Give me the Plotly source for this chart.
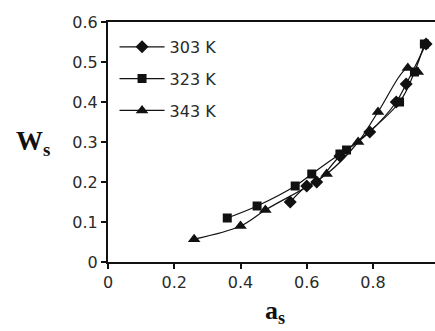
import plotly.graph_objects as go

# Water activity (a_s) vs. equilibrium moisture content (W_s)
a_303 = [0.55, 0.60, 0.63, 0.70, 0.79, 0.87, 0.90, 0.96]
w_303 = [0.15, 0.19, 0.20, 0.265, 0.325, 0.40, 0.445, 0.545]

a_323 = [0.36, 0.45, 0.565, 0.615, 0.70, 0.72, 0.88, 0.925, 0.955]
w_323 = [0.11, 0.14, 0.19, 0.22, 0.27, 0.28, 0.40, 0.475, 0.545]

a_343 = [0.26, 0.40, 0.475, 0.66, 0.755, 0.815, 0.905, 0.935]
w_343 = [0.057, 0.09, 0.13, 0.22, 0.30, 0.375, 0.485, 0.475]

series = [
    ("303 K", a_303, w_303, "diamond", 10),
    ("323 K", a_323, w_323, "square", 9),
    ("343 K", a_343, w_343, "triangle-up", 11),
]

x_ticks = [0, 0.2, 0.4, 0.6, 0.8]
y_ticks = [0, 0.1, 0.2, 0.3, 0.4, 0.5, 0.6]

INK = "#111111"
TXT = "#2a2a2a"

fig = go.Figure()
for i, (name, xs, ys, sym, sz) in enumerate(series):
    fig.add_trace(go.Scatter(
        x=xs, y=ys, name=name, mode="lines+markers",
        legendgroup=f"g{i}",
        line=dict(color=INK, width=1.2, shape="spline", smoothing=1),
        marker=dict(symbol=sym, size=sz, color=INK),
    ))

fig.update_layout(
    width=435, height=331,
    margin=dict(l=108, r=0, t=22, b=69),
    paper_bgcolor="white", plot_bgcolor="white",
    font=dict(family="DejaVu Sans", size=16, color=TXT),
    showlegend=True,
    legend=dict(
        x=0.02, y=0.967, xanchor="left", yanchor="top",
        bgcolor="rgba(0,0,0,0)", borderwidth=0,
        traceorder="grouped", tracegroupgap=8,
        itemwidth=45,
        font=dict(family="DejaVu Sans", size=16, color=TXT),
    ),
    xaxis=dict(
        range=[0, 0.987], tickvals=x_ticks, ticktext=["0", "0.2", "0.4", "0.6", "0.8"],
        showgrid=False, zeroline=False,
        showline=True, linecolor=INK, linewidth=2, mirror=True,
        ticks="outside", ticklen=5, tickwidth=1.5, tickcolor=INK,
    ),
    yaxis=dict(
        range=[0, 0.6], tickvals=y_ticks, ticktext=["0", "0.1", "0.2", "0.3", "0.4", "0.5", "0.6"],
        showgrid=False, zeroline=False,
        showline=True, linecolor=INK, linewidth=2,
        ticks="outside", ticklen=5, tickwidth=1.5, tickcolor=INK,
    ),
    annotations=[
        dict(text="<b>W<sub>s</sub></b>", xref="paper", yref="paper",
             x=-0.229, y=0.496, xanchor="center", yanchor="middle", showarrow=False,
             font=dict(family="Liberation Serif", size=27, color=INK)),
        dict(text="<b>a<sub>s</sub></b>", xref="paper", yref="paper",
             x=0.511, y=-0.21, xanchor="center", yanchor="middle", showarrow=False,
             font=dict(family="Liberation Serif", size=26, color=INK)),
    ],
)

fig.write_html("out.html")
